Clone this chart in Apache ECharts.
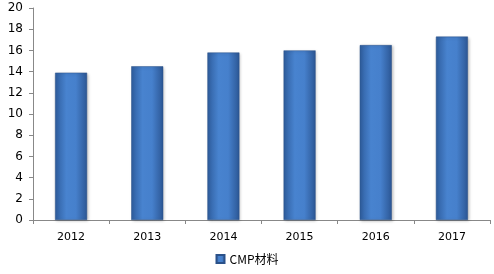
<!DOCTYPE html>
<html><head><meta charset="utf-8">
<script src="https://cdn.jsdelivr.net/npm/echarts@6/dist/echarts.min.js"></script>
<style>html,body{margin:0;padding:0;background:#fff}#c{width:494px;height:274px}</style>
</head><body><div id="c"></div>
<script>
const categories = ['2012','2013','2014','2015','2016','2017'];
const seriesName = 'CMP材料';
const values = [13.9, 14.5, 15.8, 16.0, 16.5, 17.3];
const yTicks = {min: 0, max: 20, interval: 2};

const chart = echarts.init(document.getElementById('c'));
const barColor = new echarts.graphic.LinearGradient(0,0,1,0,[
  {offset:0, color:'#2f5e9f'},
  {offset:0.35, color:'#4883cf'},
  {offset:0.65, color:'#4680cc'},
  {offset:1, color:'#2c5795'}
]);
chart.setOption({
  animation:false,
  textStyle:{fontFamily:'"DejaVu Sans", sans-serif'},
  grid:{left:33, right:4, top:8, bottom:54},
  legend:{bottom:4, left:'center', itemWidth:8, itemHeight:8, itemGap:4,
    textStyle:{fontSize:12, color:'#000', fontFamily:'"Noto Sans CJK SC", "DejaVu Sans", sans-serif'},
    data:[{name:seriesName, icon:'rect'}]},
  xAxis:{type:'category', data:categories,
    axisLine:{lineStyle:{color:'#888'}},
    axisTick:{show:true, length:4, alignWithLabel:false, lineStyle:{color:'#888'}},
    axisLabel:{color:'#000', fontSize:11, margin:12}},
  yAxis:{type:'value', min:yTicks.min, max:yTicks.max, interval:yTicks.interval,
    axisLine:{show:true, lineStyle:{color:'#888'}},
    axisTick:{show:true, length:4, lineStyle:{color:'#888'}},
    splitLine:{show:false},
    axisLabel:{color:'#000', fontSize:12, margin:10}},
  series:[{name:seriesName, type:'bar', data:values, barWidth:32,
    itemStyle:{color:barColor, borderColor:'#2a5189', borderWidth:0.5,
      shadowColor:'rgba(0,0,0,0.25)', shadowBlur:3, shadowOffsetX:1, shadowOffsetY:1}}]
});
</script></body></html>
